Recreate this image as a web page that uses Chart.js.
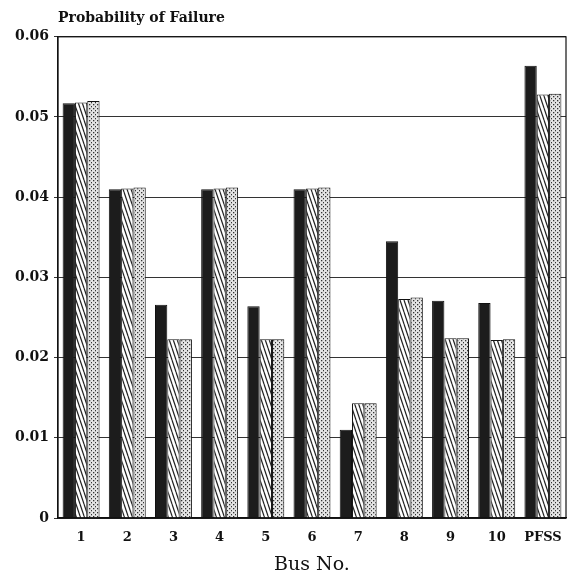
<!DOCTYPE html>
<html>
<head>
<meta charset="utf-8">
<script src="https://cdn.jsdelivr.net/npm/chart.js@4.4.1/dist/chart.umd.min.js"></script>
<style>
  body { margin: 0; background: #fff; }
</style>
</head>
<body>
<canvas id="myChart" width="567" height="586"></canvas>
<script>
// bus numbers along the x axis
const busLabels = ['1', '2', '3', '4', '5', '6', '7', '8', '9', '10', 'PFSS'];
// probability of failure, three bars per bus (solid, hatched, dotted)
const solidValues = [0.0517, 0.0410, 0.0266, 0.0410, 0.0264, 0.0410, 0.0110, 0.0345, 0.0271, 0.0268, 0.0564];
const hatchValues = [0.0518, 0.0411, 0.0223, 0.0411, 0.0223, 0.0411, 0.0143, 0.0273, 0.0224, 0.0222, 0.0528];
const dotValues   = [0.0520, 0.0412, 0.0223, 0.0412, 0.0223, 0.0412, 0.0143, 0.0275, 0.0224, 0.0223, 0.0529];
const yTicks = [0, 0.01, 0.02, 0.03, 0.04, 0.05, 0.06];

const SERIF = "'DejaVu Serif', serif";

// little fill patterns like the old plotter hatching
function hatchPattern() {
    const c = document.createElement('canvas');
    c.width = 4; c.height = 12;
    const g = c.getContext('2d');
    g.fillStyle = '#fff';
    g.fillRect(0, 0, 4, 12);
    g.strokeStyle = '#222';
    g.lineWidth = 1.2;
    for (let k = -1; k <= 1; k++) {
        g.beginPath();
        g.moveTo(k * 4, 0);
        g.lineTo(k * 4 + 4, 12);
        g.stroke();
    }
    return g.createPattern(c, 'repeat');
}

function dotPattern() {
    const c = document.createElement('canvas');
    c.width = 4; c.height = 4;
    const g = c.getContext('2d');
    g.fillStyle = '#e4e4e4';
    g.fillRect(0, 0, 4, 4);
    g.fillStyle = '#333';
    g.fillRect(1, 0, 1.3, 1.3);
    g.fillRect(3, 2, 1.3, 1.3);
    return g.createPattern(c, 'repeat');
}

// box round the plot area
const frame = {
    id: 'frame',
    afterDatasetsDraw(chart) {
        const a = chart.chartArea, ctx = chart.ctx;
        ctx.save();
        ctx.strokeStyle = '#111';
        ctx.lineWidth = 1.2;
        ctx.strokeRect(a.left, a.top, a.right - a.left, a.bottom - a.top);
        ctx.restore();
    }
};

const ctx = document.getElementById('myChart').getContext('2d');
new Chart(ctx, {
    type: 'bar',
    data: {
        labels: busLabels,
        datasets: [
            { label: 'Series 1', data: solidValues, backgroundColor: '#1c1c1c', borderColor: '#111', borderWidth: 1 },
            { label: 'Series 2', data: hatchValues, backgroundColor: hatchPattern(), borderColor: '#111', borderWidth: 1 },
            { label: 'Series 3', data: dotValues, backgroundColor: dotPattern(), borderColor: '#111', borderWidth: 1 }
        ]
    },
    options: {
        responsive: false,
        animation: false,
        layout: { padding: { left: 0, right: 1, top: 0, bottom: 0 } },
        datasets: { bar: { categoryPercentage: 0.8, barPercentage: 1.0 } },
        plugins: {
            legend: { display: false },
            tooltip: { enabled: false },
            title: {
                display: true,
                text: 'Probability of Failure',
                align: 'start',
                fullSize: false,
                color: '#111',
                font: { family: SERIF, size: 14, weight: 'bold' },
                padding: { top: 10, bottom: 10 }
            }
        },
        scales: {
            x: {
                grid: { display: false },
                border: { display: true, color: '#111', width: 1.2 },
                ticks: {
                    color: '#111',
                    padding: 4,
                    autoSkip: false,
                    maxRotation: 0,
                    minRotation: 0,
                    font: { family: SERIF, size: 13, weight: 'bold' }
                },
                title: {
                    display: true,
                    text: 'Bus No.',
                    color: '#111',
                    font: { family: SERIF, size: 19 },
                    padding: { top: 12, bottom: 10 }
                },
                afterFit(scale) { scale.height = 68; }
            },
            y: {
                min: 0,
                max: 0.06,
                afterBuildTicks(scale) { scale.ticks = yTicks.map(v => ({ value: v })); },
                grid: { color: '#333', lineWidth: 1, tickLength: 4, drawTicks: true },
                border: { display: true, color: '#111', width: 1.2 },
                ticks: {
                    color: '#111',
                    padding: 5,
                    font: { family: SERIF, size: 14, weight: 'bold' },
                    callback: v => (v === 0 ? '0' : Number(v).toFixed(2))
                },
                afterFit(scale) { scale.width = 58; }
            }
        }
    },
    plugins: [frame]
});
</script>
</body>
</html>
